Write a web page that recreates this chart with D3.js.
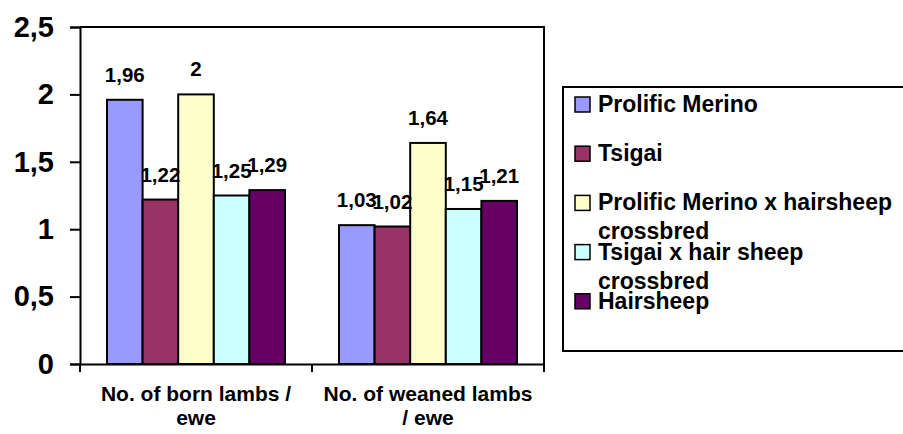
<!DOCTYPE html>
<html>
<head>
<meta charset="utf-8">
<script src="https://cdn.jsdelivr.net/npm/d3@7"></script>
<style>
  body { margin: 0; background: #fff; }
  svg { display: block; font-family: "Liberation Sans", Arial, sans-serif; font-weight: bold; }
</style>
</head>
<body>
<div id="chart"></div>
<script>
// data
var categories = ["born", "weaned"];
var categoryLabels = [["No. of born lambs /", "ewe"], ["No. of weaned lambs", "/ ewe"]];
var series = ["Prolific Merino", "Tsigai", "Prolific Merino x hairsheep crossbred", "Tsigai x hair sheep crossbred", "Hairsheep"];
var seriesLabels = [["Prolific Merino"], ["Tsigai"], ["Prolific Merino x hairsheep", "crossbred"], ["Tsigai x hair sheep", "crossbred"], ["Hairsheep"]];
var bornValues = [1.96, 1.22, 2, 1.25, 1.29];
var weanedValues = [1.03, 1.02, 1.64, 1.15, 1.21];
var colors = ["#9999FF", "#993366", "#FFFFCC", "#CCFFFF", "#660066"];
var yTicks = [0, 0.5, 1, 1.5, 2, 2.5];

var svgWidth = 903, svgHeight = 434;
var margin = { top: 27, left: 80 };
var width = 464, height = 337;

var svg = d3.select("#chart").append("svg")
  .attr("width", svgWidth)
  .attr("height", svgHeight);

var chartGroup = svg.append("g")
  .attr("transform", `translate(${margin.left}, ${margin.top})`);

var x0 = d3.scaleBand().domain(categories).range([0, width]);
var x1 = d3.scaleBand().domain(series).range([27, x0.bandwidth() - 27]);
var y = d3.scaleLinear().domain([0, 2.5]).range([height, 0]);
var color = d3.scaleOrdinal().domain(series).range(colors);

var fmt = d => String(d).replace(".", ",");

var rows = categories.map((c, i) => ({
  cat: c,
  values: series.map((s, j) => ({ s: s, v: i === 0 ? bornValues[j] : weanedValues[j] }))
}));

// plot border (top / right)
chartGroup.append("path")
  .attr("d", `M0,0H${width}V${height}`)
  .attr("fill", "none")
  .attr("stroke", "#000")
  .attr("stroke-width", 2);

// bars
var groups = chartGroup.selectAll(".cat")
  .data(rows)
  .enter()
  .append("g")
  .attr("transform", d => `translate(${x0(d.cat)},0)`);

groups.selectAll("rect")
  .data(d => d.values)
  .enter()
  .append("rect")
  .attr("x", d => x1(d.s))
  .attr("y", d => y(d.v))
  .attr("width", x1.bandwidth())
  .attr("height", d => height - y(d.v))
  .attr("fill", d => color(d.s))
  .attr("stroke", "#000")
  .attr("stroke-width", 2);

groups.selectAll("text")
  .data(d => d.values)
  .enter()
  .append("text")
  .attr("x", d => x1(d.s) + x1.bandwidth() / 2)
  .attr("y", d => y(d.v) - 18)
  .attr("text-anchor", "middle")
  .attr("font-size", "20.5px")
  .text(d => fmt(d.v));

// y axis
var yAxis = chartGroup.append("g")
  .call(d3.axisLeft(y).tickValues(yTicks).tickSize(10).tickPadding(16).tickFormat(fmt));
yAxis.selectAll("text").attr("font-size", "29px").attr("font-family", "inherit").attr("font-weight", "bold").attr("fill", "#000");
yAxis.selectAll("line, path").attr("stroke", "#000").attr("stroke-width", 2);

// x axis
var xAxis = chartGroup.append("g")
  .attr("transform", `translate(0, ${height})`)
  .call(d3.axisBottom(x0).tickSize(0).tickFormat(""));
xAxis.select(".domain").attr("stroke", "#000").attr("stroke-width", 2);

var bounds = categories.map(c => x0(c)).concat([width]);
xAxis.selectAll(".bound")
  .data(bounds)
  .enter()
  .append("line")
  .attr("x1", d => d)
  .attr("x2", d => d)
  .attr("y1", 0)
  .attr("y2", 8)
  .attr("stroke", "#000")
  .attr("stroke-width", 2);

// category labels
var catText = chartGroup.selectAll(".catlabel")
  .data(categories)
  .enter()
  .append("text")
  .attr("text-anchor", "middle")
  .attr("font-size", "21px")
  .attr("transform", d => `translate(${x0(d) + x0.bandwidth() / 2}, ${height + 37})`);

catText.selectAll("tspan")
  .data((d, i) => categoryLabels[i])
  .enter()
  .append("tspan")
  .attr("x", 0)
  .attr("dy", (d, i) => i === 0 ? 0 : 24)
  .text(d => d);

// legend
var legend = svg.append("g").attr("transform", "translate(563, 87)");
legend.append("rect")
  .attr("width", 360)
  .attr("height", 264)
  .attr("fill", "#fff")
  .attr("stroke", "#000")
  .attr("stroke-width", 2);

var items = legend.selectAll(".item")
  .data(series)
  .enter()
  .append("g")
  .attr("transform", (d, i) => `translate(12, ${25 + i * 49.2})`);

items.append("rect")
  .attr("x", 0)
  .attr("y", -15)
  .attr("width", 15)
  .attr("height", 15)
  .attr("fill", d => color(d))
  .attr("stroke", "#000")
  .attr("stroke-width", 1.5);

var itemText = items.append("text")
  .attr("x", 23)
  .attr("font-size", "23px");

itemText.selectAll("tspan")
  .data((d, i) => seriesLabels[i])
  .enter()
  .append("tspan")
  .attr("x", 23)
  .attr("dy", (d, i) => i === 0 ? 0 : 29)
  .text(d => d);
</script>
</body>
</html>
